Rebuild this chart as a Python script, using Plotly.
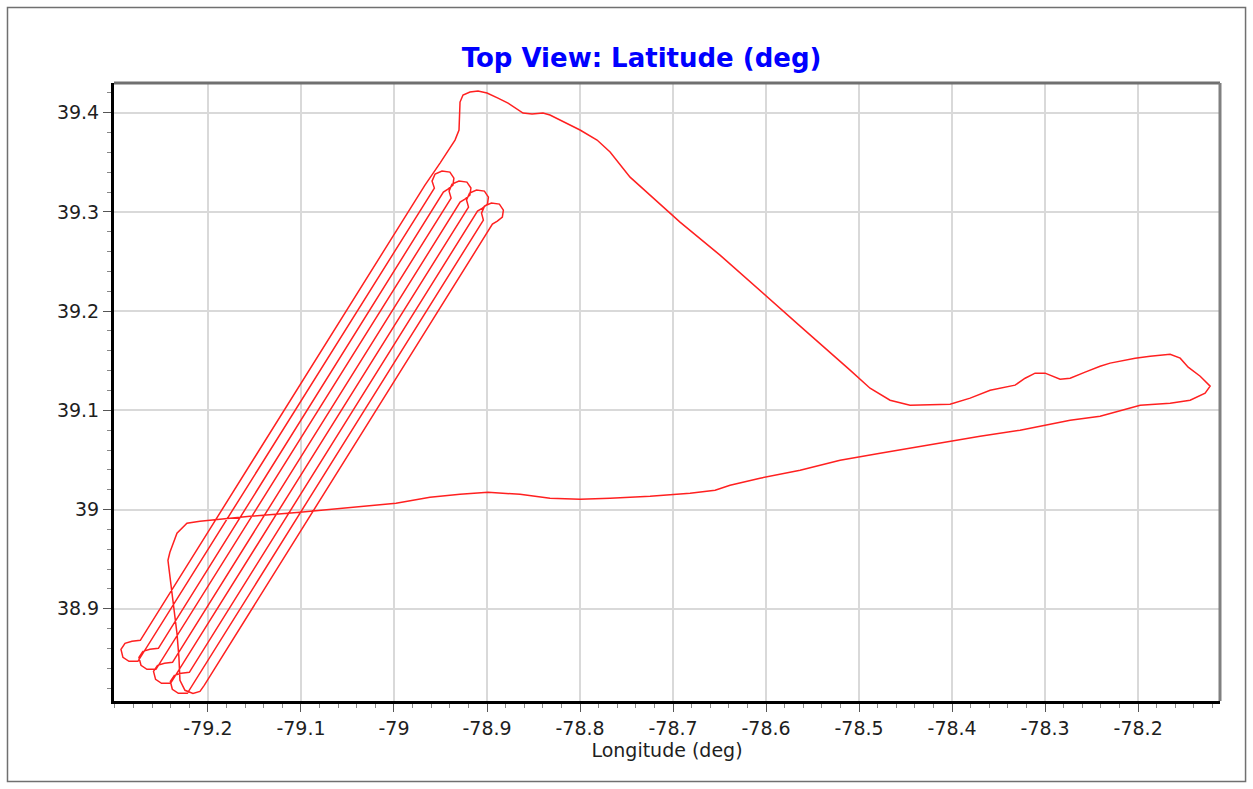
import plotly.graph_objects as go

# Flight track (longitude, latitude)
track_lon = [
    -79.2086, -79.1978, -79.1548, -79.1011, -79.0473, -78.9978, -78.9613, -78.9290, -78.8989, -78.8645,
    -78.8323, -78.8000, -78.7677, -78.7247, -78.6817, -78.6548, -78.6387, -78.6065, -78.5634, -78.5204,
    -78.4774, -78.4344, -78.4022, -78.3699, -78.3269, -78.3000, -78.2731, -78.2409, -78.1978, -78.1656,
    -78.1441, -78.1280, -78.1226, -78.1333, -78.1462, -78.1548, -78.1656, -78.1871, -78.2032, -78.2301,
    -78.2409, -78.2570, -78.2731, -78.2839, -78.3000, -78.3108, -78.3215, -78.3323, -78.3591, -78.3806,
    -78.4022, -78.4452, -78.4667, -78.4882, -78.5097, -78.5634, -78.6065, -78.6495, -78.6925, -78.7247,
    -78.7462, -78.7677, -78.7817, -78.8000, -78.8247, -78.8323, -78.8398, -78.8516, -78.8613, -78.8699,
    -78.8774, -78.8882, -78.9000, -78.9097, -78.9183, -78.9258, -78.9290, -78.9301, -78.9344, -78.9505,
    -78.9581, -78.9667,
    # line 1 down, bottom loop A
    -79.2727, -79.2817, -79.2892, -79.2935, -79.2914, -79.2849, -79.2753,
    # line 2 up, top loop 1
    -78.9566, -78.9591, -78.9558, -78.9484, -78.9399, -78.9356, -78.9366, -78.9420, -78.9469,
    # line 3 down, bottom loop B
    -79.2533, -79.2624, -79.2699, -79.2742, -79.2720, -79.2656, -79.2559,
    # line 4 up, top loop 2
    -78.9386, -78.9408, -78.9376, -78.9301, -78.9216, -78.9173, -78.9184, -78.9237, -78.9289,
    # line 5 down, bottom loop C
    -79.2381, -79.2467, -79.2542, -79.2585, -79.2563, -79.2499, -79.2402,
    # line 6 up, top loop 3
    -78.9199, -78.9220, -78.9187, -78.9113, -78.9028, -78.8985, -78.8995, -78.9049, -78.9102,
    # line 7 down, bottom loop D
    -79.2200, -79.2286, -79.2361, -79.2404, -79.2383, -79.2318, -79.2222,
    # line 8 up, top loop 4
    -78.9039, -78.9059, -78.9027, -78.8953, -78.8867, -78.8824, -78.8835, -78.8889, -78.8942,
    # line 9 down, exit north to the east-west leg
    -79.2040, -79.2086, -79.2161, -79.2247, -79.2301, -79.2312, -79.2333, -79.2387, -79.2430, -79.2409,
    -79.2333, -79.2226, -79.2086,
]
track_lat = [
    38.9882, 38.9892, 38.9932, 38.9973, 39.0023, 39.0064, 39.0124, 39.0154, 39.0174, 39.0154,
    39.0114, 39.0104, 39.0114, 39.0134, 39.0164, 39.0195, 39.0245, 39.0316, 39.0396, 39.0497,
    39.0568, 39.0638, 39.0689, 39.0739, 39.0800, 39.0850, 39.0901, 39.0941, 39.1052, 39.1072,
    39.1102, 39.1173, 39.1244, 39.1344, 39.1435, 39.1526, 39.1566, 39.1546, 39.1526, 39.1476,
    39.1445, 39.1385, 39.1324, 39.1314, 39.1375, 39.1375, 39.1324, 39.1254, 39.1203, 39.1123,
    39.1062, 39.1052, 39.1102, 39.1223, 39.1405, 39.1849, 39.2212, 39.2565, 39.2898, 39.3170,
    39.3351, 39.3604, 39.3725, 39.3826, 39.3936, 39.3977, 39.3997, 39.3987, 39.3997, 39.4047,
    39.4098, 39.4148, 39.4199, 39.4219, 39.4209, 39.4179, 39.4108, 39.3826, 39.3725, 39.3493,
    39.3392, 39.3271,
    38.8682, 38.8672, 38.8652, 38.8591, 38.8510, 38.8470, 38.8470,
    39.3241, 39.3311, 39.3382, 39.3412, 39.3402, 39.3341, 39.3271, 39.3230, 39.3200,
    38.8601, 38.8591, 38.8571, 38.8510, 38.8430, 38.8389, 38.8389,
    39.3140, 39.3210, 39.3281, 39.3311, 39.3301, 39.3241, 39.3170, 39.3130, 39.3099,
    38.8460, 38.8450, 38.8430, 38.8369, 38.8288, 38.8248, 38.8248,
    39.3049, 39.3120, 39.3190, 39.3220, 39.3210, 39.3150, 39.3079, 39.3039, 39.3009,
    38.8359, 38.8349, 38.8329, 38.8268, 38.8188, 38.8147, 38.8147,
    39.2918, 39.2988, 39.3059, 39.3089, 39.3079, 39.3019, 39.2948, 39.2908, 39.2877,
    38.8228, 38.8167, 38.8147, 38.8178, 38.8278, 38.8510, 38.8752, 38.9186, 38.9489, 38.9569,
    38.9761, 38.9862, 38.9882,
]

x_tick_vals = [-79.2, -79.1, -79.0, -78.9, -78.8, -78.7, -78.6, -78.5, -78.4, -78.3, -78.2]
x_tick_text = ["-79.2", "-79.1", "-79", "-78.9", "-78.8", "-78.7", "-78.6", "-78.5", "-78.4", "-78.3", "-78.2"]
y_tick_vals = [38.9, 39.0, 39.1, 39.2, 39.3, 39.4]
y_tick_text = ["38.9", "39", "39.1", "39.2", "39.3", "39.4"]

title_text = "Top View: Latitude (deg)"
x_title = "Longitude (deg)"

fig = go.Figure()
fig.add_trace(go.Scatter(
    x=track_lon, y=track_lat, mode="lines",
    line=dict(color="#ff2020", width=1.5),
    hoverinfo="skip", showlegend=False,
))

tick_font = dict(family="DejaVu Sans", size=19, color="#1e1e1e")

fig.update_layout(
    width=1253, height=789,
    margin=dict(l=114, r=33, t=83, b=88),
    paper_bgcolor="white", plot_bgcolor="white",
    title=dict(text=title_text, x=0.512, xref="container", xanchor="center",
               y=0.9265, yref="container", yanchor="middle",
               font=dict(family="DejaVu Sans", size=26, color="#0000ff", weight="bold")),
    showlegend=False,
)

fig.update_xaxes(
    range=[-79.301, -78.112], tickmode="array", tickvals=x_tick_vals, ticktext=x_tick_text,
    showgrid=True, gridcolor="#d9d9d9", gridwidth=2, zeroline=False,
    showline=True, linecolor="black", linewidth=3,
    ticks="outside", ticklen=8, tickwidth=1, tickcolor="#555555",
    minor=dict(tick0=-79.2, dtick=0.02, ticks="outside", ticklen=4, tickcolor="#888888", tickwidth=1, showgrid=False),
    tickfont=tick_font,
    title=dict(text=x_title, font=tick_font, standoff=4),
)
fig.update_yaxes(
    range=[38.807, 39.430], tickmode="array", tickvals=y_tick_vals, ticktext=y_tick_text,
    showgrid=True, gridcolor="#d9d9d9", gridwidth=2, zeroline=False,
    showline=True, linecolor="black", linewidth=3,
    ticks="outside", ticklen=8, tickwidth=1, tickcolor="#555555",
    minor=dict(tick0=39.0, dtick=0.02, ticks="outside", ticklen=4, tickcolor="#888888", tickwidth=1, showgrid=False),
    tickfont=tick_font,
)

# gray top/right frame of plot area and outer frame
fig.add_shape(type="line", xref="paper", yref="paper", x0=0, x1=1, y0=1, y1=1,
              line=dict(color="#707070", width=3), layer="above")
fig.add_shape(type="line", xref="paper", yref="paper", x0=1, x1=1, y0=0, y1=1,
              line=dict(color="#808080", width=3), layer="above")
fig.add_shape(type="rect", xref="paper", yref="paper", x0=-0.0963, x1=1.0231, y0=-0.1303, y1=1.1222,
              line=dict(color="#707070", width=1.5), layer="above")

fig.write_html("out.html", config={"displayModeBar": False},
               post_script="document.body.style.margin='0';document.body.style.overflow='hidden';")
